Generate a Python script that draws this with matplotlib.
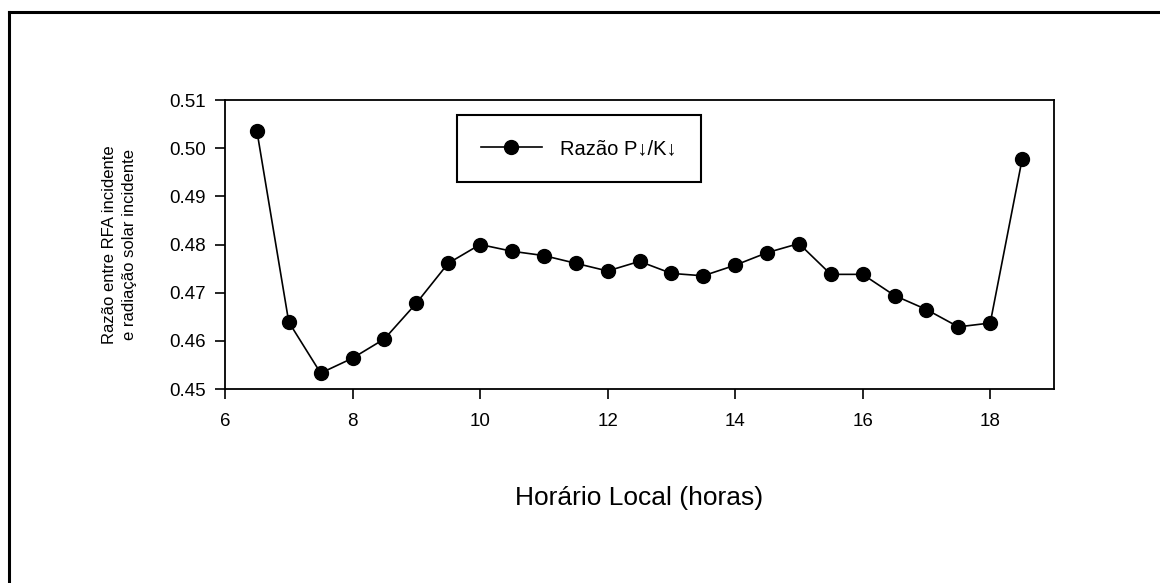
import matplotlib
matplotlib.use("Agg")
import matplotlib.pyplot as plt
from matplotlib.lines import Line2D
from matplotlib.ticker import FormatStrFormatter

hours = [6.5, 7.0, 7.5, 8.0, 8.5, 9.0, 9.5, 10.0, 10.5, 11.0, 11.5, 12.0,
         12.5, 13.0, 13.5, 14.0, 14.5, 15.0, 15.5, 16.0, 16.5, 17.0, 17.5,
         18.0, 18.5]

ratio = [0.5036, 0.4639, 0.4533, 0.4564, 0.4604, 0.4678, 0.4761, 0.4800,
         0.4786, 0.4777, 0.4761, 0.4745, 0.4765, 0.4740, 0.4735, 0.4757,
         0.4783, 0.4802, 0.4738, 0.4738, 0.4694, 0.4665, 0.4629, 0.4637,
         0.4977]

x_ticks = [6, 8, 10, 12, 14, 16, 18]
y_ticks = [0.45, 0.46, 0.47, 0.48, 0.49, 0.50, 0.51]

plt.rcParams["font.family"] = ["Liberation Sans", "DejaVu Sans"]

fig = plt.figure(figsize=(11.6, 5.83), dpi=100)
ax = fig.add_axes([225/1160, 1-389/583, (1054-225)/1160, (389-100)/583])

ax.plot(hours, ratio, color="black", lw=1.2, marker="o", ms=10,
        label="Razão P↓/K↓")

ax.set_xlim(6, 19)
ax.set_ylim(0.45, 0.51)
ax.set_xticks(x_ticks)
ax.set_yticks(y_ticks)
ax.yaxis.set_major_formatter(FormatStrFormatter("%.2f"))
ax.tick_params(direction="out", length=7, width=1.2, labelsize=13.5, pad=7)
ax.tick_params(axis="x", pad=10)
for s in ax.spines.values():
    s.set_linewidth(1.3)

ax.set_xlabel("Horário Local (horas)", fontsize=19)
ax.xaxis.set_label_coords(0.5, -(486-389)/289)
ax.set_ylabel("Razão entre RFA incidente\ne radiação solar incidente",
              fontsize=12, linespacing=1.4)
ax.yaxis.set_label_coords(-(225-137)/829, 0.5)

leg = ax.legend(loc="upper left", bbox_to_anchor=((457-225)/829, (389-115)/289),
                borderaxespad=0, fancybox=False, edgecolor="black",
                fontsize=14.5, handlelength=3.0, borderpad=1.2,
                handletextpad=0.9)
leg.get_frame().set_linewidth(1.5)
leg.get_frame().set_alpha(1)

# outer frame of the original figure
fig.add_artist(Line2D([9/1160, 9/1160], [0, 1-12/583], color="black",
                      lw=2.2, transform=fig.transFigure))
fig.add_artist(Line2D([9/1160, 1], [1-12/583, 1-12/583], color="black",
                      lw=2.2, transform=fig.transFigure))

fig.savefig("out.png", dpi=100)
